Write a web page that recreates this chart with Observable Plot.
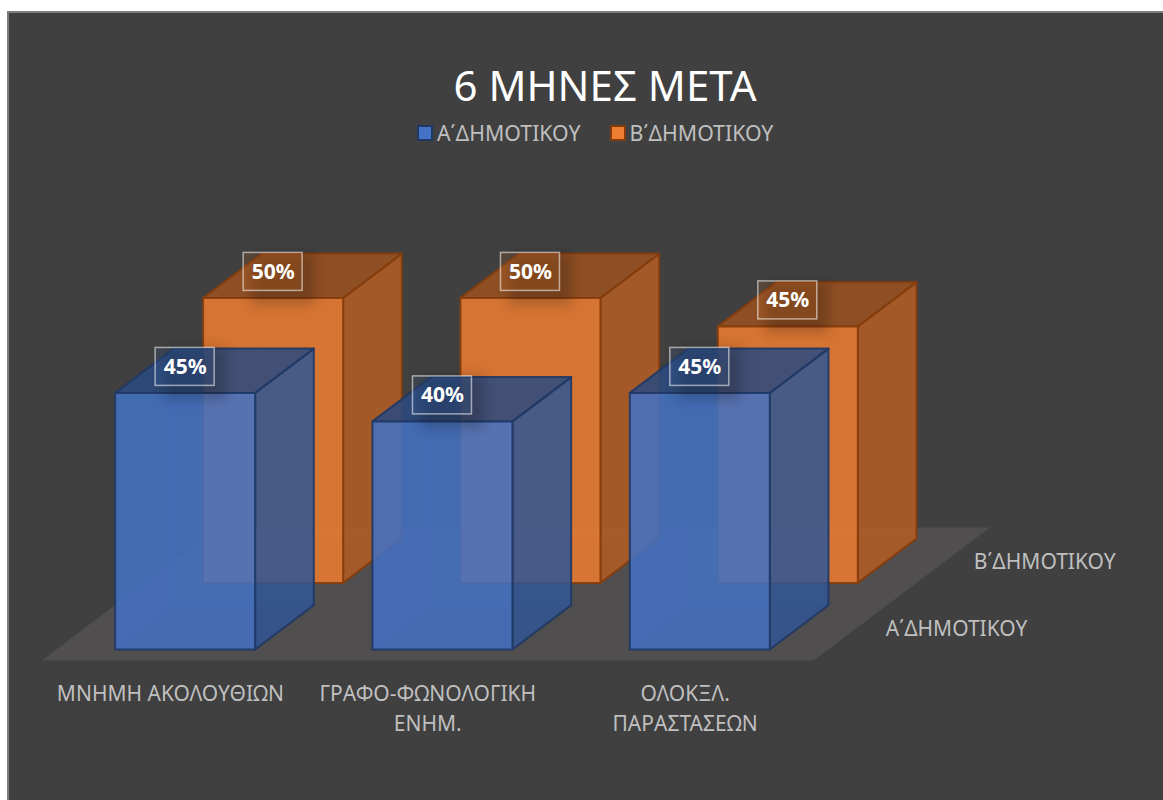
<!DOCTYPE html>
<html>
<head>
<meta charset="utf-8">
<script src="https://cdn.jsdelivr.net/npm/d3@7"></script>
<script src="https://cdn.jsdelivr.net/npm/@observablehq/plot@0.6"></script>
<style>
  html, body { margin: 0; padding: 0; background: #fff; overflow: hidden; }
  #panel { position: absolute; left: 7px; top: 11px; width: 1156px; height: 789px; background: #404040;
           border-left: 2px solid #7f7f7f; border-top: 2px solid #7f7f7f; box-sizing: border-box; }
  #title, #legend, #chart { position: absolute; font-family: "Noto Sans", sans-serif; }
  #title { left: 0; width: 1210px; top: 57px; text-align: center; color: #fff; font-size: 42px; line-height: 56px; }
  #legend { left: 417px; top: 118px; display: flex; align-items: center; color: #bfbfbf; font-size: 21.3px; line-height: 30px; }
  #legend span.sw { display: inline-block; width: 12px; height: 12px; border: 2px solid; margin-right: 4px; }
  #legend span.t { margin-right: 29px; }
  #chart { left: 0; top: 160px; }
</style>
</head>
<body>
<div id="panel"></div>
<div id="title">6 ΜΗΝΕΣ ΜΕΤΑ</div>
<div id="legend"></div>
<div id="chart"></div>
<script>
const categories = ["ΜΝΗΜΗ ΑΚΟΛΟΥΘΙΩΝ", "ΓΡΑΦΟ-ΦΩΝΟΛΟΓΙΚΗ\nΕΝΗΜ.", "ΟΛΟΚΞΛ.\nΠΑΡΑΣΤΑΣΕΩΝ"];
const seriesNames = ["Α΄ΔΗΜΟΤΙΚΟΥ", "Β΄ΔΗΜΟΤΙΚΟΥ"];
const seriesA = [45, 40, 45];
const seriesB = [50, 50, 45];
const seriesValues = [seriesA, seriesB];
const seriesFill = ["#4472c4", "#ed7d31"];
const seriesEdge = ["#203864", "#843c0c"];

// Oblique 3D projection expressed in scale units
const pxPerCat = 257.33, pxPerPct = 5.7;
const depthX = 88 / pxPerCat, depthY = 66.5 / pxPerPct;
const px = (c, d) => c + d * depthX;
const py = (d, v) => v + d * depthY;
const halfW = 70 / pxPerCat, depthFrom = 1 / 6, depthTo = 5 / 6;

const shade = (c, k) => { const r = d3.rgb(c); return d3.rgb(r.r * k, r.g * k, r.b * k).formatHex(); };

function face(points, fill, stroke, opts = {}) {
  return Plot.line(points.map(([c, d, v]) => ({ x: px(c, d), y: py(d, v) })), {
    x: "x", y: "y", curve: "linear-closed", fill, stroke,
    fillOpacity: opts.fo ?? 0.85, strokeOpacity: opts.so ?? 0.9, strokeWidth: opts.sw ?? 2, strokeLinejoin: "round"
  });
}

function bar(i, s) {
  const v = seriesValues[s][i], f = seriesFill[s], e = seriesEdge[s];
  const c0 = i + 0.5 - halfW, c1 = i + 0.5 + halfW, d0 = s + depthFrom, d1 = s + depthTo;
  const inner = { sw: 1, so: 0.2, fo: 0.12 };
  return [
    face([[c0, d0, 0], [c1, d0, 0], [c1, d1, 0], [c0, d1, 0]], shade(f, 0.6), e, inner),
    face([[c0, d0, 0], [c0, d1, 0], [c0, d1, v], [c0, d0, v]], shade(f, 0.75), e, inner),
    face([[c0, d1, 0], [c1, d1, 0], [c1, d1, v], [c0, d1, v]], shade(f, 0.9), e, inner),
    face([[c1, d0, 0], [c1, d1, 0], [c1, d1, v], [c1, d0, v]], shade(f, 0.75), e),
    face([[c0, d0, v], [c1, d0, v], [c1, d1, v], [c0, d1, v]], shade(f, 0.65), e),
    face([[c0, d0, 0], [c1, d0, 0], [c1, d0, v], [c0, d0, v]], f, e)
  ];
}

const bars = [1, 0].flatMap(s => categories.flatMap((_, i) => bar(i, s)));

const labels = [0, 1].flatMap(s => seriesValues[s].map((v, i) => ({ i, s, v })));
const boxHalfW = 29.5 / pxPerCat, boxHalfH = 19 / pxPerPct, boxUp = 26 / pxPerPct;
const cx = d => d.i + 0.5 + (d.s + depthFrom) * depthX;
const cy = d => py(d.s + depthFrom, d.v) + boxUp;

const plot = Plot.plot({
  width: 1163, height: 640,
  marginLeft: 41.3, marginRight: 349.7, marginTop: 0, marginBottom: 140,
  style: { background: "transparent", fontFamily: '"Noto Sans", sans-serif', overflow: "visible" },
  x: { domain: [0, 3], axis: null },
  y: { domain: [0, 500 / pxPerPct], axis: null },
  marks: [
    face([[0, 0, 0], [3, 0, 0], [3, 2, 0], [0, 2, 0]], "#504e4e", "none", { fo: 1 }),
    ...bars,
    Plot.rect(labels, {
      x1: d => cx(d) - boxHalfW + 8 / pxPerCat, x2: d => cx(d) + boxHalfW + 12 / pxPerCat,
      y1: d => cy(d) - boxHalfH - 14 / pxPerPct, y2: d => cy(d) + boxHalfH,
      fill: "#000", fillOpacity: 0.2, imageFilter: "blur(6px)"
    }),
    Plot.rect(labels, {
      x1: d => cx(d) - boxHalfW, x2: d => cx(d) + boxHalfW,
      y1: d => cy(d) - boxHalfH, y2: d => cy(d) + boxHalfH,
      fill: d => seriesFill[d.s], fillOpacity: 0.15,
      stroke: "#fff", strokeOpacity: 0.55, strokeWidth: 1.5
    }),
    Plot.text(labels, {
      x: cx, y: cy, text: d => d.v + "%", fill: "#fff", fontSize: 21, fontWeight: 700
    }),
    Plot.text(seriesNames, {
      x: (_, s) => px(3, s + 0.5), y: (_, s) => py(s + 0.5, 0), text: d => d,
      textAnchor: "start", dx: 28, dy: 2, fill: "#bfbfbf", fontSize: 21
    }),
    Plot.axisX(categories.map((_, i) => i + 0.5), {
      tickFormat: t => categories[t - 0.5], tickSize: 0, tickPadding: 19, label: null,
      fontSize: 21, lineHeight: 1.44, color: "#bfbfbf"
    })
  ]
});
document.getElementById("chart").appendChild(plot);

const legend = document.getElementById("legend");
seriesNames.forEach((n, s) => {
  const sw = document.createElement("span");
  sw.className = "sw";
  sw.style.background = seriesFill[s];
  sw.style.borderColor = seriesEdge[s];
  const t = document.createElement("span");
  t.className = "t";
  t.textContent = n;
  legend.append(sw, t);
});
</script>
</body>
</html>
